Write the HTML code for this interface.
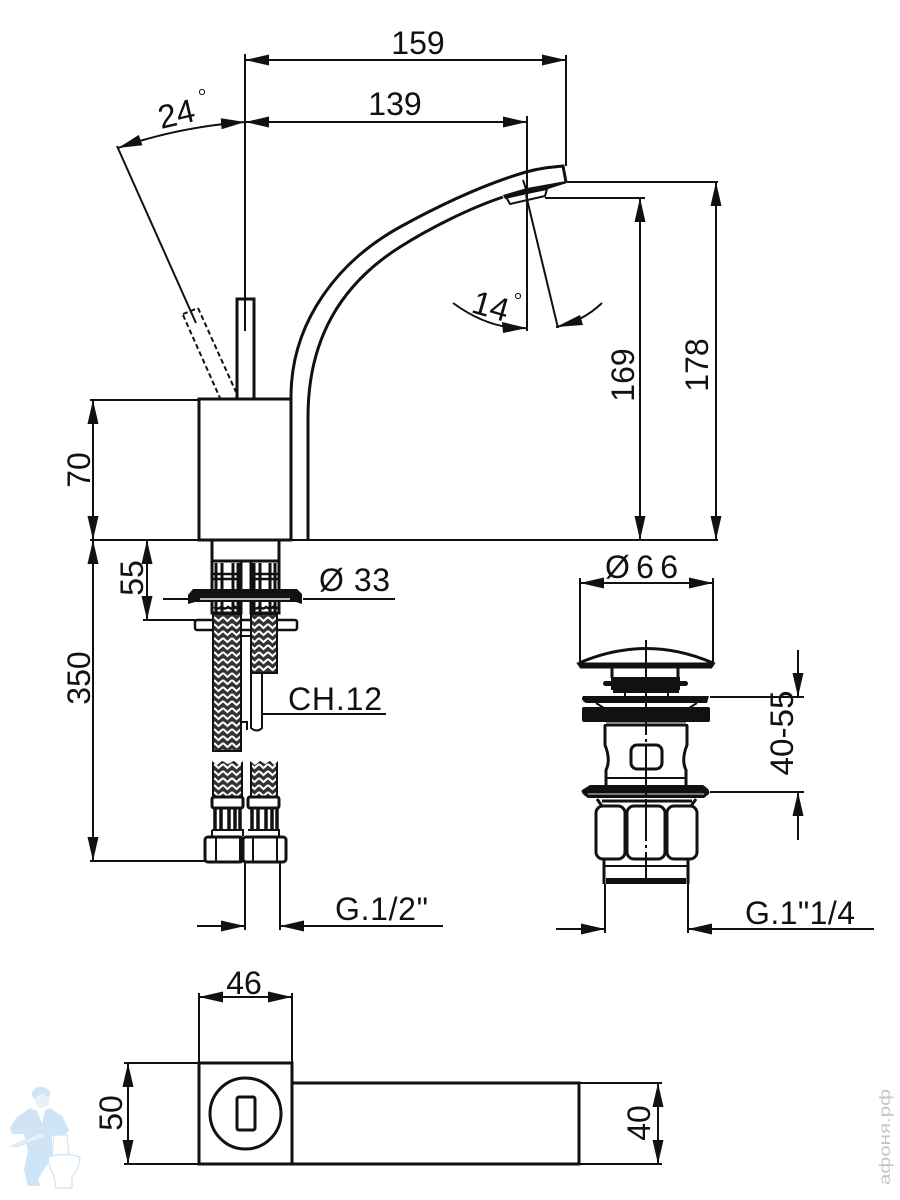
<!DOCTYPE html>
<html><head><meta charset="utf-8"><style>
html,body{margin:0;padding:0;background:#fff}
svg{display:block}
text{font-family:"Liberation Sans",sans-serif;font-size:32px;fill:#111}
.t{stroke:#111;stroke-width:2;fill:none}
.k{stroke:#111;stroke-width:3;fill:none}
.a{marker-start:url(#ar);marker-end:url(#ar)}
.e{marker-end:url(#ar)}
</style></head><body>
<svg width="900" height="1200" viewBox="0 0 900 1200" xmlns="http://www.w3.org/2000/svg">
<defs>
<marker id="ar" markerUnits="userSpaceOnUse" markerWidth="25" markerHeight="11" refX="24" refY="5.5" orient="auto-start-reverse"><path d="M0,0 L24,5.5 L0,11z" fill="#111"/></marker>
<pattern id="br" width="9" height="7" patternUnits="userSpaceOnUse" patternTransform="translate(214 0)"><rect width="9" height="7" fill="#333"/><polyline points="0,1 4.5,5 9,1" fill="none" stroke="#fff" stroke-width="2"/></pattern>
</defs>
<rect width="900" height="1200" fill="#fff"/>

<!-- top dims -->
<line class="t" x1="245" y1="54" x2="245" y2="331"/>
<line class="t" x1="566" y1="55" x2="566" y2="166"/>
<line class="t a" x1="245" y1="60" x2="566" y2="60"/>
<line class="t e" x1="245" y1="122" x2="527" y2="122"/>
<line class="t e" x1="527" y1="122" x2="245" y2="122"/>
<line class="t" x1="527" y1="116" x2="527" y2="331"/>
<text x="418" y="54" text-anchor="middle">159</text>
<text x="395" y="115" text-anchor="middle">139</text>

<!-- 24 deg -->
<path class="t a" d="M118,148 Q178,127 245,122"/>
<line class="t" x1="117" y1="146" x2="196" y2="323"/>
<text transform="translate(161,129) rotate(-13)" style="font-size:33px">24</text>
<circle cx="202" cy="92" r="2.6" fill="#fff" stroke="#111" stroke-width="1"/>
<g stroke="#111" stroke-width="2" stroke-dasharray="5 3" fill="none">
<path d="M183,315 L220,398"/><path d="M198,308 L236,392"/><path d="M183,314 L198,308"/>
</g>

<!-- lever and body -->
<path class="k" d="M237,400 V299 H254 V400"/>
<rect class="k" x="199" y="399" width="92" height="141"/>

<!-- spout -->
<path class="k" d="M291,540 V397 C291,320 340,260 400,227 C440,205 485,184 526,172 C540,168 552,167 563,166 L566,182"/>
<path class="k" d="M308,540 V417 C308,340 340,285 400,247 C430,228 470,208 503,197"/>
<path fill="#111" d="M503,195 L527,188 L566,181 L567,183 L545,190 L505,199z"/>
<path class="t" fill="#fff" d="M506,197 L547,189 L545,196 L510,204z"/>
<line class="t" x1="567" y1="182" x2="718" y2="182"/>
<line class="t" x1="545" y1="198" x2="645" y2="198"/>

<!-- 14 deg -->
<line class="t" x1="523" y1="180" x2="527" y2="192"/>
<line class="t" x1="526" y1="195" x2="558" y2="328"/>
<path class="t" d="M453,303 Q490,330 527,328"/>
<path class="t" d="M556,327 Q582,322 602,303"/>
<path fill="#111" d="M527,328 L502,322 L503,333z"/>
<path fill="#111" d="M556,327 L580,315 L583,325z"/>
<text transform="translate(470,312) rotate(16)" style="font-size:33px">14</text>
<circle cx="518" cy="296" r="2.6" fill="#fff" stroke="#111" stroke-width="1"/>

<!-- right vertical dims -->
<line class="t a" x1="716" y1="182" x2="716" y2="540"/>
<line class="t a" x1="640" y1="198" x2="640" y2="540"/>
<text transform="translate(708,365) rotate(-90)" text-anchor="middle">178</text>
<text transform="translate(634,375) rotate(-90)" text-anchor="middle">169</text>

<!-- base line -->
<line class="t" x1="90" y1="540" x2="718" y2="540" stroke-width="2.4"/>
<line class="t" x1="90" y1="400" x2="199" y2="400"/>
<line class="t a" x1="93" y1="400" x2="93" y2="540"/>
<text transform="translate(90,470) rotate(-90)" text-anchor="middle">70</text>
<line class="t a" x1="93" y1="540" x2="93" y2="861"/>
<text transform="translate(90,678) rotate(-90)" text-anchor="middle">350</text>
<line class="t" x1="90" y1="861" x2="205" y2="861"/>
<line class="t a" x1="147" y1="540" x2="147" y2="620"/>
<text transform="translate(143,578) rotate(-90)" text-anchor="middle">55</text>
<line class="t" x1="143" y1="620" x2="195" y2="620"/>

<!-- under body fittings -->
<path class="k" d="M212,541 V613 H241 V562 M279,541 V613 H251 V562" stroke-width="3.5"/>
<line x1="212" y1="561" x2="279" y2="561" stroke="#111" stroke-width="3"/>
<g stroke="#111" fill="none">
<path stroke-width="3" d="M216,563 V612 M222,563 V612 M233,563 V612 M238,563 V612 M254,563 V612 M260,563 V612 M270,563 V612 M275,563 V612"/>
<path stroke-width="2.5" d="M213,574 H241 M250,574 H279 M213,579 H241 M250,579 H279"/>
<path stroke-width="2.5" d="M214,607 q4,3 7,0 q4,3 7,0 q4,3 7,0 q3,3 6,0 M252,607 q4,3 7,0 q4,3 7,0 q4,3 7,0 q3,3 5,0"/>
</g>
<path fill="#111" d="M193,589 H297 L302,594 V604 L296,602 H195 L188,604 V595z"/>
<rect x="200" y="598" width="90" height="2" fill="#bbb"/>
<line class="t" x1="163" y1="599" x2="188" y2="599"/>
<line class="t" x1="303" y1="599" x2="395" y2="599"/>
<text x="319" y="591" textLength="71">Ø 33</text>

<rect x="195" y="620" width="102" height="10" rx="2" stroke="#111" stroke-width="2.5" fill="#fff"/>
<path class="t" d="M241,636 H251 M241,636 V723 M251,672 V728 Q257,733 262,728 V672"/>
<path class="t" d="M241,722 L247,722 L247,730"/>
<rect x="213" y="614" width="28" height="137" fill="url(#br)" stroke="#111" stroke-width="2"/>
<rect x="251" y="614" width="26" height="59" fill="url(#br)" stroke="#111" stroke-width="2"/>
<path fill="#fff" d="M212,752.5 L242,752.5 L242,756 L212,756z"/>
<line class="t" x1="262" y1="714" x2="386" y2="714"/>
<text x="288" y="710" textLength="94">CH.12</text>

<!-- lower hose -->
<rect x="213" y="762" width="29" height="36" fill="url(#br)" stroke="#111" stroke-width="2"/>
<rect x="251" y="762" width="26" height="36" fill="url(#br)" stroke="#111" stroke-width="2"/>
<path fill="#fff" d="M212,761 H222 L217,765z M222,761 H234 L228,764z M234,761 H243 L239,765z M250,761 H260 L255,765z M260,761 H270 L265,764z M270,761 H278 L274,765z"/>
<rect x="212" y="797" width="31" height="11" rx="2" stroke="#111" stroke-width="3" fill="#fff"/>
<rect x="248" y="797" width="31" height="11" rx="2" stroke="#111" stroke-width="3" fill="#fff"/>
<g stroke="#111" stroke-width="3.5">
<path d="M215,808 V830 M221,808 V830 M229,808 V830 M235,808 V830 M240,808 V830 M252,808 V830 M258,808 V830 M266,808 V830 M272,808 V830 M277,808 V830"/>
</g>
<path class="t" d="M212,830 H243 V836 M248,830 H279 V836 M212,830 V836"/>
<rect class="k" x="205" y="837" width="38" height="25" rx="3"/>
<rect class="k" x="243" y="837" width="43" height="25" rx="3"/>
<path class="t" d="M216,838 V861 M240,838 V861 M253,838 V861 M277,838 V861"/>
<rect x="240" y="837" width="4" height="25" fill="#111"/>

<line class="t" x1="245" y1="862" x2="245" y2="930"/>
<line class="t" x1="280" y1="862" x2="280" y2="930"/>
<line class="t e" x1="197" y1="926" x2="245" y2="926"/>
<line class="t e" x1="443" y1="926" x2="280" y2="926"/>
<text x="335" y="920" textLength="93">G.1/2"</text>

<!-- pop-up waste -->
<line class="t" x1="580" y1="578" x2="580" y2="664"/>
<line class="t" x1="713" y1="578" x2="713" y2="664"/>
<line class="t a" x1="580" y1="583" x2="713" y2="583"/>
<text x="605" y="578" textLength="73">Ø66</text>
<path class="k" d="M579,663 Q646,634 713,663"/>
<path class="k" d="M579,664 H713 L711,667 H581z"/>
<path class="k" d="M612,667 V678 M678,667 V678"/>
<rect x="611" y="677" width="69" height="13" fill="#111"/>
<rect x="603" y="681" width="85" height="5" rx="2.5" fill="#111"/>
<rect x="613" y="690" width="66" height="3" fill="#111"/>
<path class="t" d="M625,693 V697 M668,693 V697"/>
<path fill="#111" d="M583,696 H709 L707,703 H586 Q580,700 583,696z"/>
<path class="t" d="M596,703 L604,708 M697,703 L689,708"/>
<rect x="582" y="707" width="128" height="15" rx="2" fill="#111"/>
<rect x="606" y="722" width="80" height="2" fill="#888"/>
<rect x="604" y="724" width="84" height="2.5" fill="#111"/>
<path class="k" d="M605,725 V745 Q611,760 606,770 V786 M687,725 V745 Q681,760 686,770 V786"/>
<rect class="k" x="631" y="745" width="31" height="24" rx="6"/>
<path class="t" d="M607,778 H686"/>
<path fill="#111" d="M590,785 H703 Q711,790 709,794 L704,798 H588 Q580,793 582,790z"/>
<rect x="588" y="793" width="116" height="2" fill="#777"/>
<path class="k" d="M597,799 L602,806 M696,799 L691,806 M602,801 H692"/>
<rect class="k" x="596" y="806" width="29" height="53" rx="7"/>
<rect class="k" x="627" y="806" width="38" height="53" rx="7"/>
<rect class="k" x="667" y="806" width="30" height="53" rx="7"/>
<path class="k" d="M604,860 V884 M688,860 V884"/>
<path class="t" d="M604,866 H688"/>
<rect x="606" y="878" width="80" height="6" fill="#111"/>
<line x1="646" y1="640" x2="646" y2="878" stroke="#111" stroke-width="2" stroke-dasharray="42 4 3 4"/>
<line class="t" x1="605" y1="884" x2="605" y2="933"/>
<line class="t" x1="688" y1="884" x2="688" y2="933"/>
<line class="t e" x1="556" y1="929" x2="605" y2="929"/>
<line class="t e" x1="874" y1="929" x2="688" y2="929"/>
<text x="745" y="924" textLength="110">G.1"1/4</text>

<line class="t" x1="710" y1="697" x2="804" y2="697"/>
<line class="t" x1="710" y1="792" x2="804" y2="792"/>
<line class="t e" x1="798" y1="650" x2="798" y2="697"/>
<line class="t e" x1="798" y1="840" x2="798" y2="792"/>
<text transform="translate(793,733) rotate(-90)" text-anchor="middle" textLength="85" lengthAdjust="spacingAndGlyphs">40-55</text>

<!-- plan -->
<line class="t" x1="199" y1="993" x2="199" y2="1063"/>
<line class="t" x1="292" y1="993" x2="292" y2="1063"/>
<line class="t a" x1="199" y1="997" x2="292" y2="997"/>
<text x="244" y="994" text-anchor="middle">46</text>
<rect class="k" x="199" y="1063" width="93" height="101"/>
<circle class="k" cx="245.5" cy="1113.5" r="35.5"/>
<rect class="k" x="237" y="1097" width="18" height="33" rx="2"/>
<path class="k" d="M292,1083 H579 V1164 H292"/>
<line class="t" x1="124" y1="1063" x2="199" y2="1063"/>
<line class="t" x1="124" y1="1164" x2="199" y2="1164"/>
<line class="t a" x1="128" y1="1063" x2="128" y2="1164"/>
<text transform="translate(122,1113) rotate(-90)" text-anchor="middle">50</text>
<line class="t" x1="579" y1="1083" x2="662" y2="1083"/>
<line class="t" x1="579" y1="1164" x2="662" y2="1164"/>
<line class="t a" x1="658" y1="1083" x2="658" y2="1164"/>
<text transform="translate(650,1123) rotate(-90)" text-anchor="middle">40</text>

<!-- plumber watermark -->
<g fill="#cfe4f4">
<ellipse cx="41" cy="1094" rx="9" ry="7"/>
<ellipse cx="42" cy="1101" rx="7" ry="7" fill="#e6f1fa"/>
<path d="M30,1108 L40,1112 L50,1108 L62,1116 L69,1130 L66,1134 L52,1136 L52,1158 L42,1172 L38,1180 L41,1186 L28,1186 L24,1170 L28,1150 L24,1134 L12,1134 L10,1128 L16,1118z"/>
<path d="M12,1146 L42,1132 L45,1137 L16,1147z" fill="#e6f1fa" stroke="#cfe4f4"/>
</g>
<path d="M37,1110 L45,1110 L42,1124z" fill="#fff"/>
<g fill="#fff" stroke="#cfe4f4" stroke-width="1.2">
<path d="M54,1135 H67 L69,1156 H52z"/>
<path d="M48,1157 Q64,1152 80,1157 Q79,1170 72,1176 L72,1188 L56,1188 L54,1176 Q49,1168 48,1157z"/>
</g>
<text transform="translate(890,1185) rotate(-90)" style="font-size:16px;fill:#c4c4c4" textLength="96" lengthAdjust="spacingAndGlyphs">афоня.рф</text>
</svg>
</body></html>
